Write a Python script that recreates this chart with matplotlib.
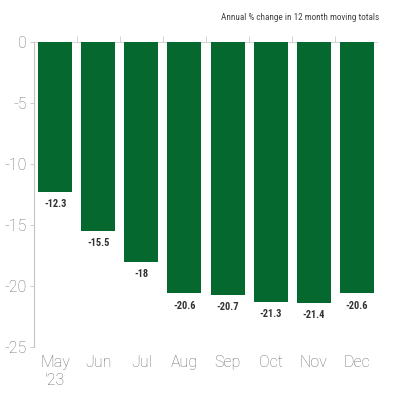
import matplotlib.pyplot as plt

months = ["May\n'23", "Jun", "Jul", "Aug", "Sep", "Oct", "Nov", "Dec"]
change = [-12.3, -15.5, -18, -20.6, -20.7, -21.3, -21.4, -20.6]
value_labels = ["-12.3", "-15.5", "-18", "-20.6", "-20.7", "-21.3", "-21.4", "-20.6"]

fig = plt.figure(figsize=(4, 4), dpi=100)
ax = fig.add_axes([0.084, 0.1325, 0.862, 0.7625])

x = range(len(months))
ax.bar(x, change, width=0.79, color="#05692f", zorder=2)

narrow = ["Roboto Condensed", "Roboto", "DejaVu Sans"]
for i, (v, lab) in enumerate(zip(change, value_labels)):
    ax.text(i, v - 0.6, lab, ha="center", va="top", fontsize=7.5,
            color="#333333", fontweight="bold", family=narrow)

ax.set_xlim(-0.5, 7.5)
ax.set_ylim(-25, 0)
ax.set_yticks([0, -5, -10, -15, -20, -25])
ax.set_yticklabels(["0", "-5", "-10", "-15", "-20", "-25"])

ax.set_xticks(list(x))
ax.set_xticklabels(months)
ax.tick_params(axis="x", length=0, pad=6, labelsize=11.5, labelcolor="#707070")
ax.tick_params(axis="y", length=3, width=0.6, color="#c4c4c4", pad=2,
               labelsize=11.5, labelcolor="#707070")
for t in ax.get_xticklabels() + ax.get_yticklabels():
    t.set_family(["Roboto", "DejaVu Sans"])
    t.set_fontweight("light")

# category separators along the zero line
ax.set_xticks([i + 0.5 for i in range(len(months) - 1)], minor=True)
ax.tick_params(axis="x", which="minor", length=4, width=0.6, color="#cccccc",
               direction="out", top=True, bottom=False)
ax.axhline(0, color="#d6d6d6", lw=0.8, zorder=1)

for s in ["top", "right", "bottom"]:
    ax.spines[s].set_visible(False)
ax.spines["left"].set_color("#c4c4c4")
ax.spines["left"].set_linewidth(0.8)

fig.text(0.948, 0.955, "Annual % change in 12 month moving totals", ha="right",
         va="center", fontsize=6.6, color="#444444", family=narrow)

fig.savefig("out.png", dpi=100)
